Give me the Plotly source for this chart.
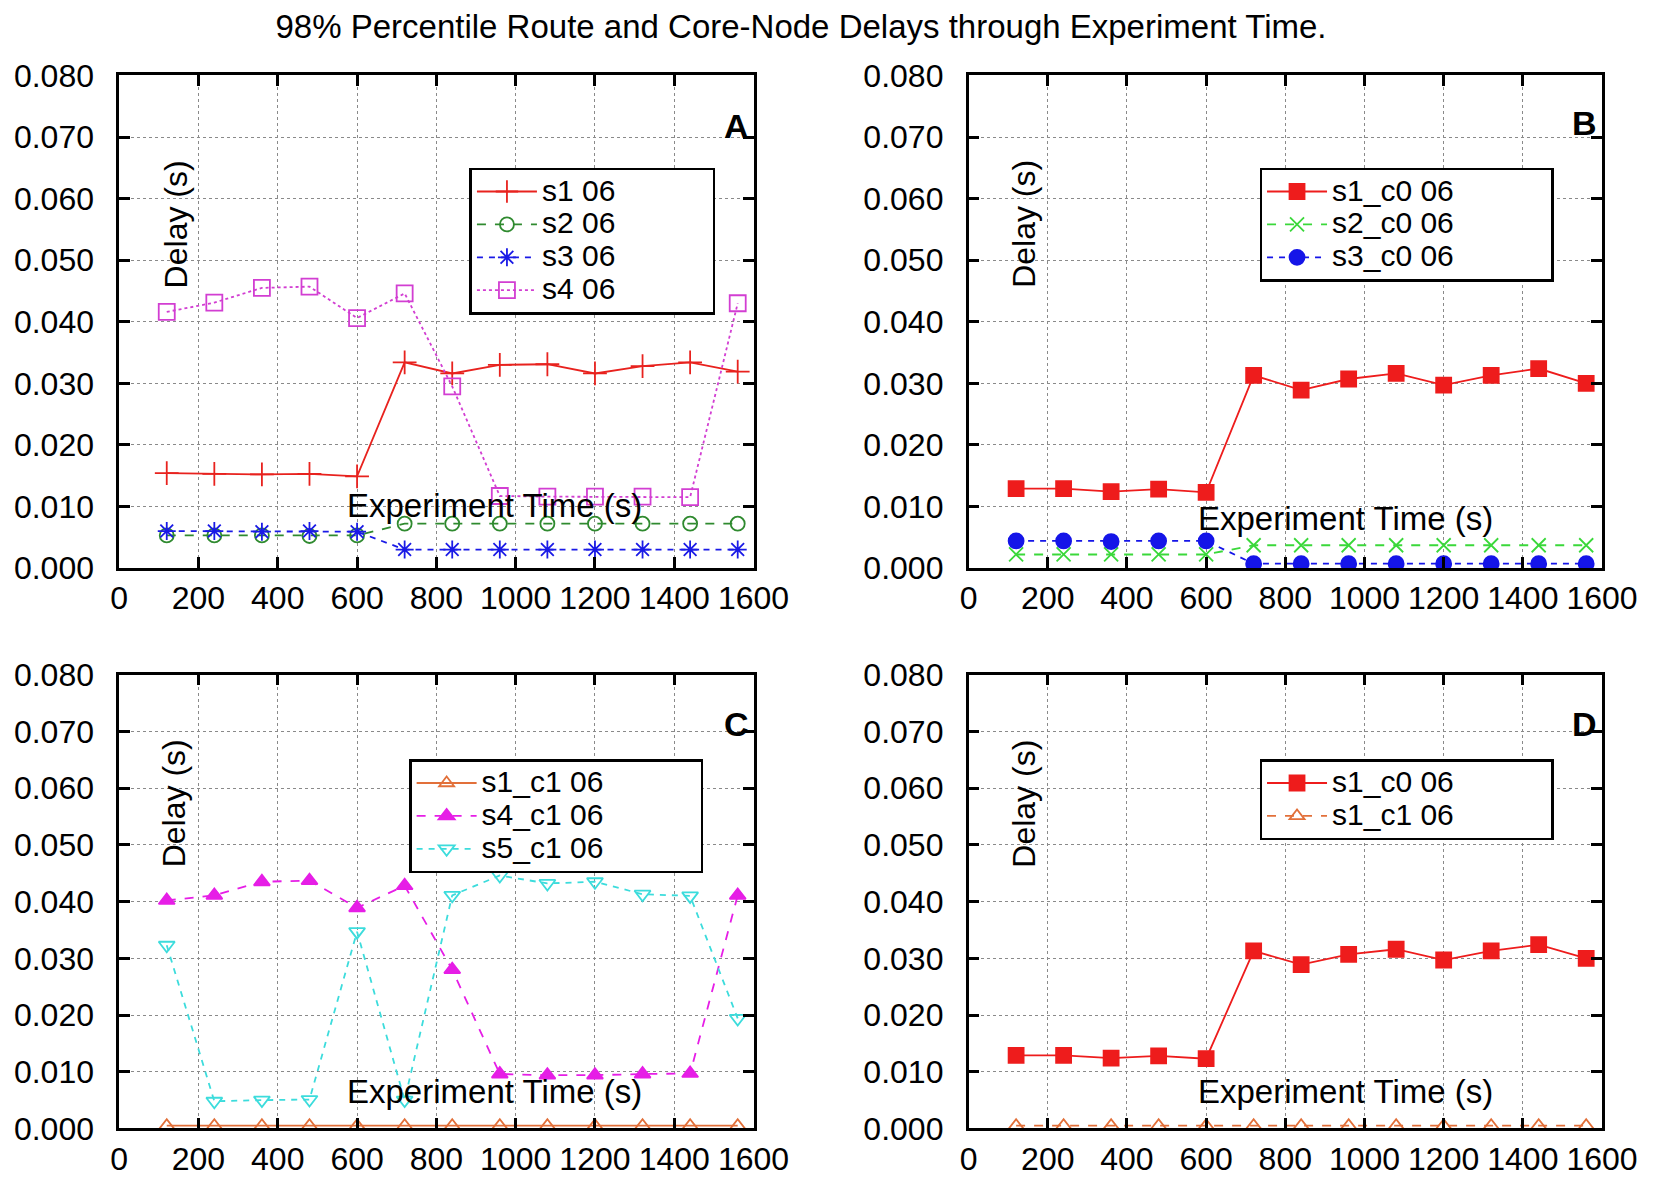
import plotly.graph_objects as go
from plotly.subplots import make_subplots

# experiment time samples (s)
time_s = [120, 240, 360, 480, 600, 720, 840, 960, 1080, 1200, 1320, 1440, 1560]

# panel A - route delays (s)
s1_06 = [0.0154, 0.0153, 0.0152, 0.0153, 0.0149, 0.0334, 0.0316, 0.0330, 0.0331, 0.0316, 0.0328, 0.0334, 0.0319]
s2_06 = [0.0053, 0.0053, 0.0053, 0.0052, 0.0053, 0.0072, 0.0072, 0.0072, 0.0072, 0.0072, 0.0072, 0.0072, 0.0072]
s3_06 = [0.0060, 0.0060, 0.0059, 0.0060, 0.0059, 0.0030, 0.0030, 0.0030, 0.0030, 0.0030, 0.0030, 0.0030, 0.0030]
s4_06 = [0.0416, 0.0431, 0.0455, 0.0457, 0.0406, 0.0446, 0.0295, 0.0117, 0.0116, 0.0116, 0.0116, 0.0115, 0.0430]

# panel B - core node c0 delays (s)
s1_c0_06 = [0.0129, 0.0129, 0.0124, 0.0128, 0.0123, 0.0313, 0.0289, 0.0307, 0.0316, 0.0297, 0.0313, 0.0324, 0.0300]
s2_c0_06 = [0.0022, 0.0022, 0.0022, 0.0022, 0.0022, 0.0037, 0.0037, 0.0037, 0.0037, 0.0037, 0.0037, 0.0037, 0.0037]
s3_c0_06 = [0.0044, 0.0044, 0.0043, 0.0044, 0.0044, 0.0007, 0.0007, 0.0007, 0.0007, 0.0007, 0.0007, 0.0007, 0.0007]

# panel C - core node c1 delays (s)
s1_c1_06 = [0.0005, 0.0005, 0.0005, 0.0005, 0.0005, 0.0005, 0.0005, 0.0005, 0.0005, 0.0005, 0.0005, 0.0005, 0.0005]
s4_c1_06 = [0.0402, 0.0411, 0.0435, 0.0437, 0.0389, 0.0428, 0.0280, 0.0096, 0.0094, 0.0094, 0.0096, 0.0097, 0.0411]
s5_c1_06 = [0.0323, 0.0048, 0.0050, 0.0051, 0.0347, 0.0050, 0.0411, 0.0446, 0.0432, 0.0435, 0.0413, 0.0410, 0.0194]

FONT = "Liberation Sans, Arial, sans-serif"
W, H = 1667, 1186
PAD = "\u00a0" * 11  # widen legend boxes like gnuplot's long key samples

fig = make_subplots(rows=2, cols=2)


def add(row, col, name, y, color, dash, symbol, legend, size=13):
    # legend font is small so rows stay tight; the label itself is drawn bigger
    label = '<span style="font-size:30px">' + name + PAD + "</span>"
    fig.add_trace(go.Scatter(
        x=time_s, y=y, name=label, mode="lines+markers",
        line=dict(color=color, width=1.8, dash=dash),
        marker=dict(symbol=symbol, size=size, color=color,
                    line=dict(color=color, width=1.8)),
        legend=legend,
    ), row=row, col=col)


# A
add(1, 1, "s1 06", s1_06, "#e8221e", "solid", "cross-thin-open", "legend", 17)
add(1, 1, "s2 06", s2_06, "#2f8a2f", "dash", "circle-open", "legend", 14)
add(1, 1, "s3 06", s3_06, "#1a1ae6", "6px,6px", "asterisk-open", "legend", 15)
add(1, 1, "s4 06", s4_06, "#d23ed2", "dot", "square-open", "legend", 16)
# B
add(1, 2, "s1_c0 06", s1_c0_06, "#ee1c1c", "solid", "square", "legend2", 15)
add(1, 2, "s2_c0 06", s2_c0_06, "#3ad83a", "dash", "x-thin-open", "legend2", 14)
add(1, 2, "s3_c0 06", s3_c0_06, "#1515e8", "6px,6px", "circle", "legend2", 15)
# C
add(2, 1, "s1_c1 06", s1_c1_06, "#e2703a", "solid", "triangle-up-open", "legend3", 13)
add(2, 1, "s4_c1 06", s4_c1_06, "#e61ee6", "dash", "triangle-up", "legend3", 14)
add(2, 1, "s5_c1 06", s5_c1_06, "#3cdcdc", "6px,6px", "triangle-down-open", "legend3", 14)
# D
add(2, 2, "s1_c0 06", s1_c0_06, "#ee1c1c", "solid", "square", "legend4", 15)
add(2, 2, "s1_c1 06", s1_c1_06, "#e2703a", "dash", "triangle-up-open", "legend4", 13)

# panel frames in pixels: (left, right, top, bottom)
boxes = {
    1: (105, 757, 51, 559),
    2: (978, 1629, 51, 559),
    3: (105, 757, 669, 1137),
    4: (978, 1629, 669, 1137),
}

axis_common = dict(
    showline=True, linecolor="black", linewidth=2.5, mirror="ticks",
    ticks="inside", ticklen=11, tickwidth=2.5, tickcolor="black",
    showgrid=True, gridcolor="#8a8a8a", griddash="dot", gridwidth=1.2,
    zeroline=False, tickfont=dict(family=FONT, size=32, color="black"),
    tickangle=0,
)

for i, (l, r, t, b) in boxes.items():
    sfx = "" if i == 1 else str(i)
    fig.layout["xaxis" + sfx].update(
        domain=[l / W, r / W], range=[0, 1600], dtick=200, tick0=0, **axis_common)
    fig.layout["yaxis" + sfx].update(
        domain=[1 - b / H, 1 - t / H], range=[0, 0.08], dtick=0.01, tick0=0,
        tickformat=".3f", ticklabelstandoff=16, **axis_common)

legend_style = dict(
    bgcolor="white", bordercolor="black", borderwidth=2.5,
    font=dict(family=FONT, size=23, color="black"),
    xanchor="left", yanchor="top", itemwidth=60, tracegroupgap=0,
)
fig.update_layout(
    legend=dict(x=465 / W, y=1 - 146 / H, **legend_style),
    legend2=dict(x=1277 / W, y=1 - 146 / H, **legend_style),
    legend3=dict(x=403 / W, y=1 - 756 / H, **legend_style),
    legend4=dict(x=1277 / W, y=1 - 756 / H, **legend_style),
)

# in-plot axis labels and panel letters, as gnuplot placed them
labels = [
    # delay label x,y ; time label x,y ; letter x,y ; letter
    (163, 205, 491, 494, 754, 103, "A"),
    (1035, 204, 1365, 508, 1626, 100, "B"),
    (161, 802, 491, 1099, 754, 720, "C"),
    (1035, 802, 1365, 1099, 1626, 720, "D"),
]
for dx, dy, tx, ty, lx, ly, letter in labels:
    fig.add_annotation(x=dx / W, y=1 - dy / H, xref="paper", yref="paper",
                       xanchor="center", yanchor="middle",
                       text="Delay (s)", textangle=-90, showarrow=False,
                       font=dict(family=FONT, size=32, color="black"))
    fig.add_annotation(x=tx / W, y=1 - ty / H, xref="paper", yref="paper",
                       xanchor="center", yanchor="middle",
                       text="Experiment Time (s)", showarrow=False,
                       font=dict(family=FONT, size=33, color="black"))
    fig.add_annotation(x=lx / W, y=1 - ly / H, xref="paper", yref="paper",
                       xanchor="right", yanchor="middle",
                       text="<b>" + letter + "</b>", showarrow=False,
                       font=dict(family=FONT, size=34, color="black"))

fig.update_layout(
    width=W, height=H,
    margin=dict(l=0, r=0, t=0, b=0),
    paper_bgcolor="white", plot_bgcolor="white",
    title=dict(text="98% Percentile Route and Core-Node Delays through Experiment Time.",
               x=793 / W, xanchor="center", y=1 - 18 / H, yanchor="middle",
               font=dict(family=FONT, size=33, color="black")),
)

fig.write_html("out.html")
